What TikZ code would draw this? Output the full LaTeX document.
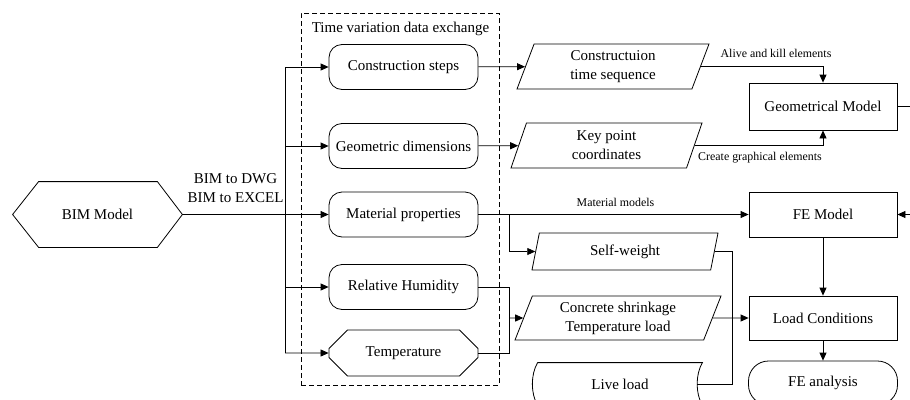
\documentclass[tikz,border=0pt]{standalone}
\usepackage{fontspec}
\setmainfont{Liberation Serif}
\usetikzlibrary{shapes.geometric,shapes.misc,arrows.meta}
\begin{document}
\begin{tikzpicture}[x=1pt,y=-1pt,
  font=\fontsize{15}{19}\selectfont,
  line width=0.8pt,
  >={Triangle[length=8pt,width=7pt]},
  rbox/.style={draw, rounded corners=13pt, minimum width=149pt, minimum height=45pt, inner sep=0pt},
  cbox/.style={draw, chamfered rectangle, chamfered rectangle xsep=12pt, chamfered rectangle ysep=12pt, minimum width=149pt, minimum height=46pt, inner sep=0pt},
  sbox/.style={draw, minimum width=148pt, minimum height=45pt, inner sep=0pt},
  para/.style={draw, trapezium, trapezium left angle=62, trapezium right angle=118, trapezium stretches body, minimum height=45pt, inner sep=0pt, align=center},
  small/.style={font=\fontsize{11.9}{14}\selectfont},
  plain/.style={inner sep=0pt, align=center}
]
\clip (0,0) rectangle (910,399);

% BIM model hexagon
\node[plain, minimum width=169pt, minimum height=65pt] (bim) at (97.5,214.5) {BIM Model};
\draw (bim.west) -- ([xshift=26pt]bim.north west) -- ([xshift=-25pt]bim.north east) -- (bim.east)
  -- ([xshift=-25pt]bim.south east) -- ([xshift=26pt]bim.south west) -- cycle;
\node[plain] (conv) at (235.5,188.5) {BIM to DWG\\BIM to EXCEL};

% dashed container
\node[draw, dash pattern=on 5pt off 3pt, line width=1pt, minimum width=198pt, minimum height=372pt, inner sep=0pt] (dx) at (400,199) {};
\node[plain] (title) at (400.5,29) {Time variation data exchange};

% data exchange items
\node[rbox] (cs) at (403.5,67) {Construction steps};
\node[rbox] (gd) at (403.5,146) {Geometric dimensions};
\node[rbox] (mp) at (403.5,214.5) {Material properties};
\node[rbox] (rh) at (403.5,287) {Relative Humidity};
\node[cbox] (temp) at (403.5,353) {Temperature};

% bus
\coordinate (b1) at (285,67);
\coordinate (b2) at (285,146);
\coordinate (b3) at (285,214.5);
\coordinate (b4) at (285,287);
\coordinate (b5) at (285,353);
\draw (bim.east) -- (b3);
\draw (b1) -- (b5);
\draw[->] (b1) -- (cs);
\draw[->] (b2) -- (gd);
\draw[->] (b3) -- (mp);
\draw[->] (b4) -- (rh);
\draw[->] (b5) -- (temp);

% parallelograms
\node[para, minimum width=192pt] (cts) at (613,66.5) {Constructuion\\time sequence};
\node[para, minimum width=191pt] (kpc) at (606.5,145.5) {Key point\\coordinates};
\node[para, minimum width=186pt, minimum height=37pt] (sw) at (625,251.5) {Self-weight};
\node[para, minimum width=206pt, minimum height=44pt] (csk) at (618,318) {Concrete shrinkage\\Temperature load};

% live load (stored data shape)
\node[plain, minimum width=164pt, minimum height=42pt] (live) at (620,384) {Live load};
\draw (live.north west) -- (live.north east) .. controls +(-7,12) and +(-7,-12) .. (live.south east)
  -- (live.south west) .. controls +(-7,-12) and +(-7,12) .. (live.north west);

% right column
\node[sbox, minimum height=47pt] (gm) at (823,106.5) {Geometrical Model};
\node[sbox] (fe) at (823,214.5) {FE Model};
\node[sbox, minimum height=44pt] (lc) at (823,318) {Load Conditions};
\node[draw, rounded corners=20pt, minimum width=149pt, minimum height=44pt, inner sep=0pt] (fea) at (823,383) {FE analysis};

\coordinate (gmout) at (910,106.5);
\coordinate (fein) at (910,214.5);
\coordinate (mpj) at (509,214.5);
\coordinate (j2) at (509,318);
\coordinate (k) at (732,318);

% connectors
\draw[->] (cs) -- (cts);
\draw[->] (gd) -- (kpc);
\draw[->] (cts) -| (gm);
\draw[->] (kpc) -| (gm);
\node[small] (ak) at (776,53) {Alive and kill elements};
\node[small] (cg) at (760,158) {Create graphical elements};
\draw (gm) -- (gmout);
\draw[->] (fein) -- (fe);
\draw[->] (mp) -- (fe);
\node[small] (mm) at (615.5,202) {Material models};
\draw[->] (mpj) |- (sw);
\draw (rh) -| (j2);
\draw (temp) -| (j2);
\draw[->] (j2) -- (csk);
\draw (sw) -| (k);
\draw ([xshift=-5pt]live.east) -| (k);
\draw[->] (csk) -- (lc);
\draw[->] (fe) -- (lc);
\draw[->] (lc) -- (fea);
\end{tikzpicture}
\end{document}
